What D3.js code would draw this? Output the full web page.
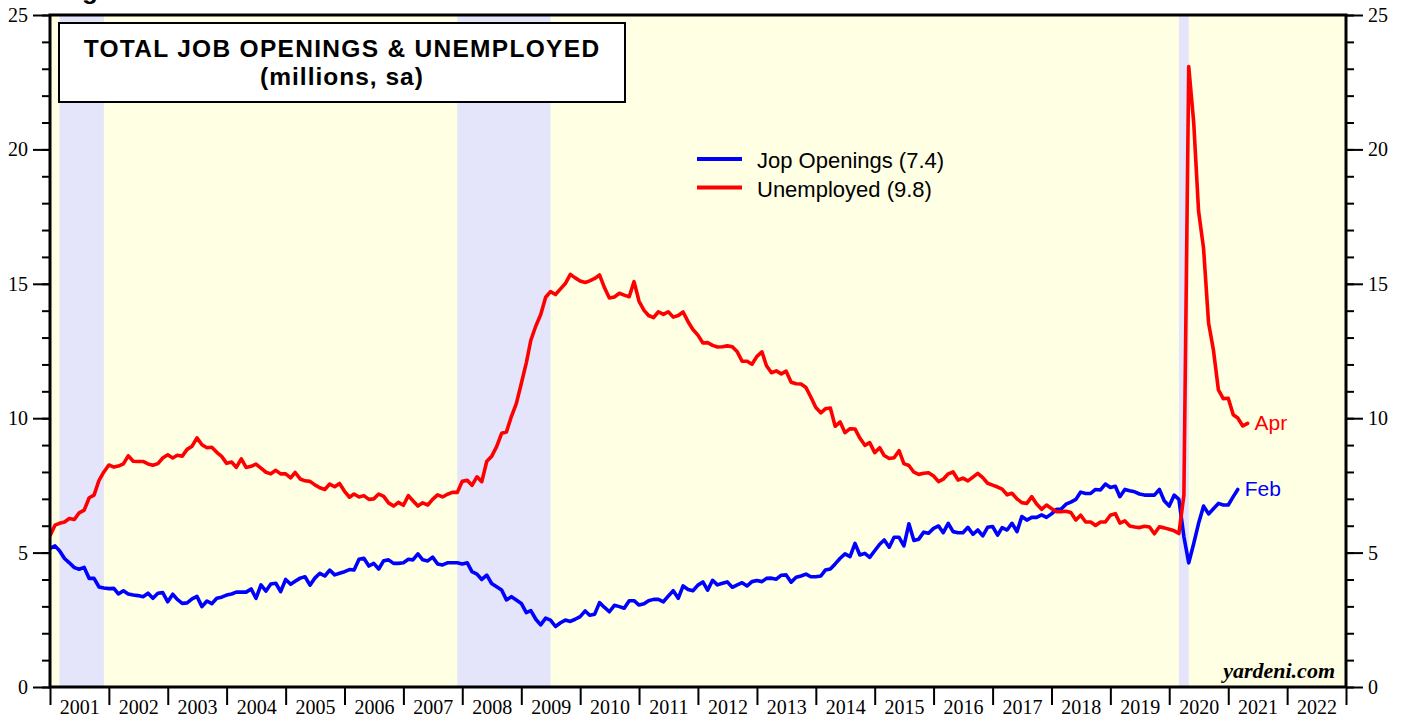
<!DOCTYPE html>
<html>
<head>
<meta charset="utf-8">
<script src="https://cdn.jsdelivr.net/npm/d3@7"></script>
<style>
  html, body { margin: 0; padding: 0; background: #ffffff; }
  svg { display: block; }
</style>
</head>
<body>
<svg id="chart" width="1406" height="721"></svg>
<script>
// ---------------- DATA ----------------
// Monthly series, first observation = December 2000
const firstMonth = "2000-12";
const seriesNames = ["Jop Openings (7.4)", "Unemployed (9.8)"];
const seriesColors = ["#0000ff", "#ff0000"];
const endLabels = ["Feb", "Apr"];

// Job openings (millions, sa), Dec 2000 .. Feb 2021
const jobOpenings = [
  5.16,
  5.25, 5.07, 4.78, 4.62, 4.44, 4.38, 4.45, 4.04, 4.04, 3.72, 3.68, 3.66,
  3.67, 3.46, 3.58, 3.46, 3.42, 3.40, 3.36, 3.49, 3.30, 3.49, 3.51, 3.17,
  3.45, 3.26, 3.11, 3.13, 3.28, 3.37, 2.99, 3.20, 3.10, 3.30, 3.34, 3.42,
  3.46, 3.53, 3.53, 3.53, 3.65, 3.30, 3.80, 3.57, 3.83, 3.86, 3.55, 4.00,
  3.82, 3.93, 4.05, 4.10, 3.79, 4.05, 4.23, 4.13, 4.35, 4.17, 4.23, 4.29,
  4.37, 4.35, 4.75, 4.79, 4.50, 4.60, 4.39, 4.70, 4.73, 4.60, 4.60, 4.62,
  4.75, 4.73, 4.95, 4.73, 4.69, 4.83, 4.58, 4.54, 4.62, 4.62, 4.62, 4.58,
  4.62, 4.29, 4.20, 4.00, 4.16, 3.85, 3.73, 3.61, 3.24, 3.36, 3.24, 3.11,
  2.77, 2.84, 2.52, 2.31, 2.56, 2.49, 2.25, 2.39, 2.49, 2.44, 2.52, 2.62,
  2.83, 2.67, 2.71, 3.14, 2.96, 2.80, 3.04, 2.99, 2.93, 3.21, 3.21, 3.05,
  3.10, 3.21, 3.26, 3.26, 3.17, 3.38, 3.58, 3.30, 3.76, 3.63, 3.58, 3.79,
  3.91, 3.60, 3.97, 3.80, 3.86, 3.91, 3.71, 3.80, 3.88, 3.76, 3.92, 3.96,
  3.92, 4.04, 4.05, 4.01, 4.16, 4.17, 3.90, 4.08, 4.13, 4.20, 4.10, 4.10,
  4.13, 4.35, 4.39, 4.58, 4.79, 4.95, 4.85, 5.34, 4.91, 4.97, 4.82, 5.07,
  5.31, 5.47, 5.20, 5.57, 5.57, 5.25, 6.07, 5.45, 5.50, 5.76, 5.72, 5.90,
  5.99, 5.74, 6.09, 5.78, 5.74, 5.74, 5.94, 5.68, 5.84, 5.62, 5.94, 5.97,
  5.65, 5.93, 5.84, 6.09, 5.78, 6.34, 6.21, 6.31, 6.31, 6.40, 6.31, 6.44,
  6.61, 6.61, 6.80, 6.88, 6.98, 7.25, 7.20, 7.20, 7.35, 7.33, 7.55, 7.42,
  7.47, 7.08, 7.35, 7.30, 7.26, 7.18, 7.14, 7.14, 7.14, 7.35, 6.93, 6.73,
  7.14, 6.98, 5.59, 4.62, 5.34, 6.09, 6.73, 6.44, 6.63, 6.83, 6.77, 6.77,
  7.08, 7.35
];

// Unemployed (millions, sa), Dec 2000 .. Apr 2021
const unemployed = [
  5.63,
  6.02, 6.09, 6.14, 6.27, 6.23, 6.48, 6.58, 7.04, 7.14, 7.69, 8.00, 8.26,
  8.18, 8.22, 8.30, 8.60, 8.40, 8.39, 8.39, 8.30, 8.25, 8.31, 8.52, 8.64,
  8.52, 8.62, 8.59, 8.84, 8.96, 9.27, 9.01, 8.90, 8.92, 8.73, 8.58, 8.32,
  8.37, 8.17, 8.49, 8.17, 8.21, 8.29, 8.14, 7.99, 7.93, 8.06, 7.93, 7.93,
  7.78, 7.98, 7.74, 7.67, 7.65, 7.52, 7.41, 7.35, 7.55, 7.45, 7.57, 7.28,
  7.06, 7.18, 7.07, 7.12, 6.98, 7.00, 7.18, 7.09, 6.85, 6.73, 6.87, 6.76,
  7.12, 6.93, 6.73, 6.85, 6.77, 6.98, 7.15, 7.07, 7.17, 7.24, 7.24, 7.65,
  7.69, 7.50, 7.82, 7.64, 8.40, 8.58, 8.94, 9.44, 9.49, 10.07, 10.54, 11.29,
  12.06, 12.90, 13.43, 13.85, 14.50, 14.71, 14.60, 14.81, 15.01, 15.35, 15.22, 15.10,
  15.05, 15.11, 15.20, 15.33, 14.85, 14.47, 14.51, 14.65, 14.58, 14.52, 15.08, 14.35,
  14.01, 13.82, 13.74, 13.96, 13.86, 13.96, 13.76, 13.82, 13.95, 13.59, 13.30, 13.09,
  12.80, 12.81, 12.71, 12.65, 12.66, 12.69, 12.66, 12.47, 12.12, 12.12, 12.01, 12.30,
  12.47, 11.95, 11.69, 11.76, 11.65, 11.75, 11.34, 11.28, 11.27, 11.14, 10.79, 10.40,
  10.20, 10.35, 10.38, 9.70, 9.86, 9.46, 9.61, 9.60, 9.26, 8.99, 9.09, 8.72,
  8.90, 8.61, 8.50, 8.53, 8.79, 8.31, 8.24, 7.99, 7.91, 7.95, 7.97, 7.85,
  7.64, 7.73, 7.93, 8.00, 7.70, 7.77, 7.67, 7.81, 7.95, 7.79, 7.58, 7.51,
  7.44, 7.36, 7.15, 7.21, 7.00, 6.86, 6.83, 7.08, 6.81, 6.61, 6.77, 6.64,
  6.52, 6.52, 6.54, 6.49, 6.21, 6.39, 6.14, 6.14, 6.01, 6.14, 6.14, 6.39,
  6.45, 6.10, 6.18, 5.99, 5.95, 5.93, 5.98, 5.95, 5.70, 5.96, 5.92, 5.87,
  5.81, 5.71, 7.14, 23.08, 20.99, 17.70, 16.31, 13.54, 12.54, 11.05, 10.73, 10.74,
  10.13, 10.01, 9.71, 9.81
];

// Recessions (first month, last month)
const recessions = [["2001-03", "2001-11"], ["2007-12", "2009-06"], ["2020-03", "2020-04"]];

const yearLabels = d3.range(2001, 2023);   // 2001 .. 2022
const yMajorTicks = [0, 5, 10, 15, 20, 25];
const yMinorTicks = d3.range(0, 26);

const titleLines = ["TOTAL JOB OPENINGS & UNEMPLOYED", "(millions, sa)"];
const sourceText = "yardeni.com";

// ---------------- LAYOUT ----------------
const svg = d3.select("#chart");
const L = 50, R = 1346, T = 15, B = 687;
const parseMonth = d3.timeParse("%Y-%m");

const x = d3.scaleTime()
  .domain([new Date(2001, 0, 1), new Date(2023, 0, 1)])
  .range([L, R]);
const y = d3.scaleLinear().domain([0, 25]).range([B, T]);

// observation plotted at end of its month
const start = parseMonth(firstMonth);
const obsDate = i => d3.timeMonth.offset(start, i + 1);

// top heading, cut off by the page edge as in the reference
svg.append("text")
  .attr("x", 59).attr("y", -1.5)
  .attr("font-family", "Liberation Sans, Arial, sans-serif")
  .attr("font-weight", "bold").attr("font-size", 26)
  .text("Figure 1.");

// background
svg.append("rect").attr("x", L).attr("y", T).attr("width", R - L).attr("height", B - T)
  .attr("fill", "#ffffe4");

// recession bands
svg.append("g").selectAll("rect").data(recessions).join("rect")
  .attr("x", d => x(parseMonth(d[0])))
  .attr("width", d => x(d3.timeMonth.offset(parseMonth(d[1]), 1)) - x(parseMonth(d[0])))
  .attr("y", T).attr("height", B - T)
  .attr("fill", "#e4e4fa");

// clip
svg.append("clipPath").attr("id", "plotclip")
  .append("rect").attr("x", L).attr("y", T).attr("width", R - L).attr("height", B - T);

const line = d3.line()
  .x((d, i) => x(obsDate(i)))
  .y(d => y(d));

const allSeries = [jobOpenings, unemployed];
svg.append("g").attr("clip-path", "url(#plotclip)")
  .selectAll("path").data(allSeries).join("path")
  .attr("d", d => line(d))
  .attr("fill", "none")
  .attr("stroke", (d, i) => seriesColors[i])
  .attr("stroke-width", 3.6)
  .attr("stroke-linejoin", "round")
  .attr("stroke-linecap", "round");

// end labels
svg.append("g").selectAll("text").data(allSeries).join("text")
  .attr("x", (d, i) => x(obsDate(d.length - 1)) + 7)
  .attr("y", (d, i) => y(d[d.length - 1]) + 7)
  .attr("font-family", "Liberation Sans, Arial, sans-serif")
  .attr("font-size", 21)
  .attr("fill", (d, i) => seriesColors[i])
  .text((d, i) => endLabels[i]);

// title box
const tb = svg.append("g");
tb.append("rect").attr("x", 59).attr("y", 23).attr("width", 566).attr("height", 79)
  .attr("fill", "#ffffff").attr("stroke", "#000").attr("stroke-width", 2);
tb.selectAll("text").data(titleLines).join("text")
  .attr("x", 342).attr("y", (d, i) => 57 + i * 28)
  .attr("text-anchor", "middle")
  .attr("font-family", "Liberation Sans, Arial, sans-serif")
  .attr("font-weight", "bold")
  .attr("font-size", 24.5)
  .attr("letter-spacing", (d, i) => i === 0 ? 1.3 : 1.0)
  .text(d => d);

// legend
const lg = svg.append("g");
seriesNames.forEach((name, i) => {
  const yy = 159 + i * 28.5;
  lg.append("line").attr("x1", 697).attr("x2", 742).attr("y1", yy).attr("y2", yy)
    .attr("stroke", seriesColors[i]).attr("stroke-width", 4);
  lg.append("text").attr("x", 757).attr("y", yy + 9)
    .attr("font-family", "Liberation Sans, Arial, sans-serif")
    .attr("font-size", 22).attr("fill", "#000").text(name);
});

// source
svg.append("text").attr("x", 1335).attr("y", 678)
  .attr("text-anchor", "end")
  .attr("font-family", "Liberation Serif, Times New Roman, serif")
  .attr("font-weight", "bold").attr("font-style", "italic")
  .attr("font-size", 22).text(sourceText);

// ---------------- AXES ----------------
const serif = "Liberation Serif, Times New Roman, serif";
function styleAxis(g) {
  g.select(".domain").remove();
  g.selectAll(".tick line").attr("stroke", "#000").attr("stroke-width", 2);
  g.selectAll(".tick text").attr("font-family", serif).attr("font-size", 20).attr("fill", "#000");
}

// left minor / major
svg.append("g").attr("transform", `translate(${L},0)`)
  .call(d3.axisLeft(y).tickValues(yMinorTicks).tickSize(8).tickFormat(""))
  .call(styleAxis);
svg.append("g").attr("transform", `translate(${L},0)`)
  .call(d3.axisLeft(y).tickValues(yMajorTicks).tickSize(17).tickPadding(5).tickFormat(d3.format("d")))
  .call(styleAxis);
// right minor / major
svg.append("g").attr("transform", `translate(${R},0)`)
  .call(d3.axisRight(y).tickValues(yMinorTicks).tickSize(8).tickFormat(""))
  .call(styleAxis);
svg.append("g").attr("transform", `translate(${R},0)`)
  .call(d3.axisRight(y).tickValues(yMajorTicks).tickSize(17).tickPadding(5).tickFormat(d3.format("d")))
  .call(styleAxis);

// x year boundaries
const yearBounds = d3.range(2001, 2024).map(yr => new Date(yr, 0, 1));
svg.append("g").attr("transform", `translate(0,${B})`)
  .call(d3.axisBottom(x).tickValues(yearBounds).tickSize(18).tickFormat(""))
  .call(styleAxis);
// year labels centred in each year
svg.append("g").attr("transform", `translate(0,${B})`)
  .call(d3.axisBottom(x).tickValues(yearLabels.map(yr => new Date(yr, 6, 2)))
    .tickSize(0).tickPadding(13).tickFormat(d3.timeFormat("%Y")))
  .call(styleAxis);

// frame
svg.append("rect").attr("x", L).attr("y", T).attr("width", R - L).attr("height", B - T)
  .attr("fill", "none").attr("stroke", "#000").attr("stroke-width", 3);
</script>
</body>
</html>
